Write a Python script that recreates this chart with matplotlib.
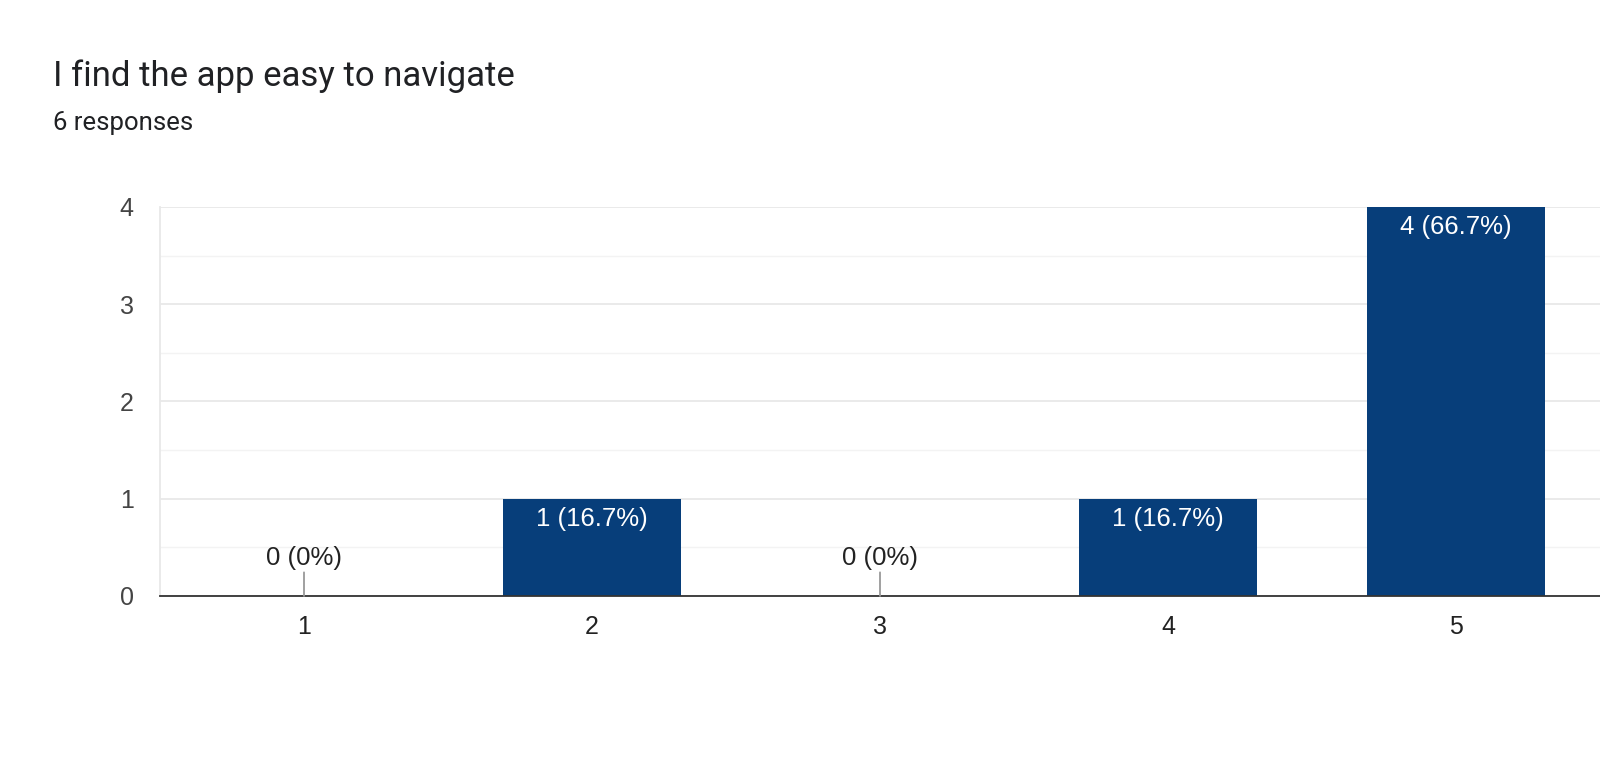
import numpy as np
import matplotlib.pyplot as plt
from matplotlib.ticker import MultipleLocator

title = 'I find the app easy to navigate'
subtitle = '6 responses'
ratings = ['1', '2', '3', '4', '5']
counts = [0, 1, 0, 1, 4]
percents = ['0%', '16.7%', '0%', '16.7%', '66.7%']

bar_color = '#073e7a'

fig = plt.figure(figsize=(16, 7.59), dpi=100)
ax = fig.add_axes([0.1, 0.2148, 0.9, 0.5125])

x = np.arange(1, len(ratings) + 1)
ax.bar(x, counts, width=0.62, color=bar_color, zorder=3)

ax.set_xlim(0.5, 5.5)
ax.set_ylim(0, 4)
ax.set_xticks(x)
ax.set_xticklabels(ratings)
ax.yaxis.set_major_locator(MultipleLocator(1))
ax.yaxis.set_minor_locator(MultipleLocator(0.5))
ax.grid(axis='y', which='major', color='#e8e8e8', linewidth=1.3, zorder=0)
ax.grid(axis='y', which='minor', color='#f3f3f3', linewidth=1.0, zorder=0)

ax.tick_params(axis='both', which='both', length=0)
ax.tick_params(axis='y', pad=19, labelsize=18, labelcolor='#444444')
ax.tick_params(axis='x', pad=14, labelsize=18, labelcolor='#222222')
for lab in ax.get_xticklabels() + ax.get_yticklabels():
    lab.set_family('Liberation Sans')

for side in ['top', 'right']:
    ax.spines[side].set_visible(False)
ax.spines['left'].set_color('#e8e8e8')
ax.spines['left'].set_linewidth(1.3)
ax.spines['bottom'].set_color('#333333')
ax.spines['bottom'].set_linewidth(1.3)
ax.spines['bottom'].set_zorder(4)

for xi, c, p in zip(x, counts, percents):
    label = f'{c} ({p})'
    if c > 0:
        ax.annotate(label, xy=(xi, c), xytext=(0, -6), textcoords='offset points',
                    ha='center', va='top', color='white', fontsize=18.5,
                    family='Liberation Sans', zorder=5)
    else:
        ax.annotate(label, xy=(xi, 0), xytext=(0, 19), textcoords='offset points',
                    ha='center', va='bottom', color='#222222', fontsize=18.5,
                    family='Liberation Sans', zorder=5,
                    arrowprops=dict(arrowstyle='-', color='#999999', lw=1.3,
                                    shrinkA=0, shrinkB=0))

fig.text(53 / 1600, 1 - 76 / 759, title, fontsize=25, family='Roboto',
         color='#202124', va='center', ha='left')
fig.text(53 / 1600, 1 - 123 / 759, subtitle, fontsize=18.5, family='Roboto',
         color='#202124', va='center', ha='left')

fig.savefig('out.png', dpi=100, facecolor='white')
